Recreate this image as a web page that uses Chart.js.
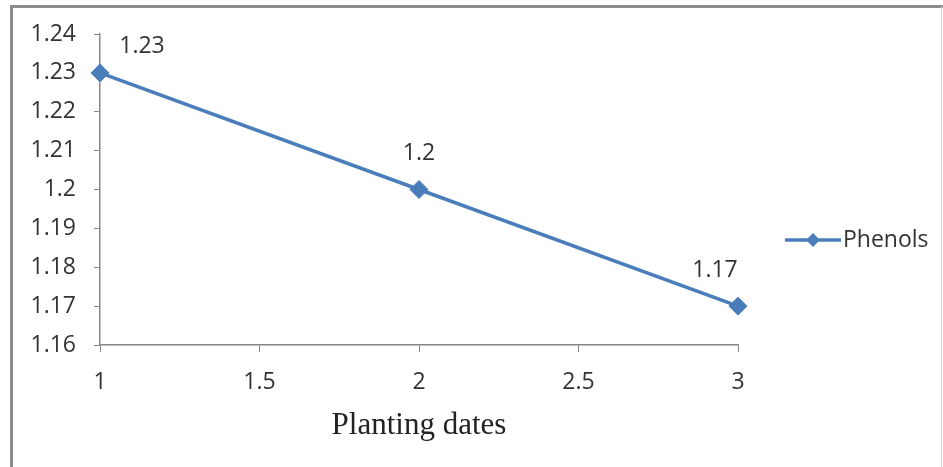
<!DOCTYPE html>
<html>
<head>
<meta charset="utf-8">
<script src="https://cdn.jsdelivr.net/npm/chart.js@4/dist/chart.umd.min.js"></script>
<style>
  html, body { margin: 0; padding: 0; background: #fff; }
  #wrap { position: relative; width: 943px; height: 467px; }
</style>
</head>
<body>
<div id="wrap"><canvas id="c" width="943" height="467"></canvas></div>
<script>
// ---- data ----
const plantingDates = [1, 2, 3];
const phenolsValues = [1.23, 1.20, 1.17];
const seriesName = "Phenols";
const xAxisTitle = "Planting dates";
const yTickMin = 1.16, yTickMax = 1.24, yTickStep = 0.01;
const xTickMin = 1, xTickMax = 3, xTickStep = 0.5;

const lineColor = '#4A7EBB';
const axisColor = '#868686';
const textColor = '#333333';
const tickFont = { family: "'Open Sans', sans-serif", size: 23 };

// per-point label offsets (styling only)
const labelShift = [{ dx: 42, dy: -26 }, { dx: 0, dy: -36 }, { dx: -23, dy: -36 }];

const fmt = v => String(+Number(v).toFixed(2));

const framePlugin = {
  id: 'frame',
  beforeDraw(chart) {
    const ctx = chart.ctx;
    ctx.save();
    ctx.fillStyle = '#fff';
    ctx.fillRect(0, 0, chart.width, chart.height);
    ctx.strokeStyle = '#8c8c8c';
    ctx.lineWidth = 3;
    ctx.beginPath();
    ctx.moveTo(11.5, 470);
    ctx.lineTo(11.5, 6.5);
    ctx.lineTo(945, 6.5);
    ctx.stroke();
    ctx.strokeStyle = '#d8d8d8';
    ctx.lineWidth = 1;
    ctx.beginPath();
    ctx.moveTo(941.5, 6.5);
    ctx.lineTo(941.5, 470);
    ctx.stroke();
    ctx.restore();
  }
};

const labelsPlugin = {
  id: 'pointLabels',
  afterDatasetsDraw(chart) {
    const ctx = chart.ctx;
    const meta = chart.getDatasetMeta(0);
    ctx.save();
    ctx.font = `${tickFont.size}px ${tickFont.family}`;
    ctx.fillStyle = textColor;
    ctx.textAlign = 'center';
    ctx.textBaseline = 'middle';
    meta.data.forEach((pt, i) => {
      const v = chart.data.datasets[0].data[i].y;
      const s = labelShift[i] || { dx: 0, dy: -36 };
      ctx.fillText(fmt(v), pt.x + s.dx, pt.y + s.dy);
    });
    // legend
    const lx = 785, ly = 240;
    ctx.strokeStyle = lineColor;
    ctx.lineWidth = 3.5;
    ctx.beginPath();
    ctx.moveTo(lx, ly);
    ctx.lineTo(lx + 56, ly);
    ctx.stroke();
    ctx.fillStyle = lineColor;
    ctx.beginPath();
    const cx = lx + 28, r = 7;
    ctx.moveTo(cx - r, ly); ctx.lineTo(cx, ly - r); ctx.lineTo(cx + r, ly); ctx.lineTo(cx, ly + r);
    ctx.closePath();
    ctx.fill();
    ctx.fillStyle = textColor;
    ctx.textAlign = 'left';
    ctx.fillText(seriesName, lx + 58, ly);
    ctx.restore();
  }
};

new Chart(document.getElementById('c'), {
  type: 'line',
  data: {
    datasets: [{
      label: seriesName,
      data: plantingDates.map((x, i) => ({ x: x, y: phenolsValues[i] })),
      borderColor: lineColor,
      backgroundColor: lineColor,
      borderWidth: 3.5,
      pointStyle: 'rectRot',
      pointRadius: 9,
      pointBorderWidth: 1,
      pointBackgroundColor: lineColor,
      pointBorderColor: lineColor,
      tension: 0,
      clip: false
    }]
  },
  options: {
    responsive: false,
    animation: false,
    devicePixelRatio: 1,
    layout: { padding: { left: 0, right: 205, top: 34, bottom: 0 } },
    plugins: { legend: { display: false }, tooltip: { enabled: false } },
    scales: {
      x: {
        type: 'linear',
        min: xTickMin, max: xTickMax,
        afterFit(s) { s.height = 122; },
        ticks: { stepSize: xTickStep, color: textColor, font: tickFont, padding: 17, maxRotation: 0, callback: v => fmt(v) },
        grid: { drawOnChartArea: false, drawTicks: true, tickLength: 7, color: axisColor },
        border: { color: axisColor, width: 1.5 },
        title: {
          display: true, text: xAxisTitle, color: '#222',
          font: { family: "'Liberation Serif', 'Times New Roman', serif", size: 31 },
          padding: { top: 0, bottom: 23 }
        }
      },
      y: {
        min: yTickMin, max: yTickMax,
        afterFit(s) { s.width = 100; },
        ticks: {
          stepSize: yTickStep, color: textColor, font: tickFont, padding: 18,
          callback: v => fmt(v)
        },
        grid: { drawOnChartArea: false, drawTicks: true, tickLength: 6, color: axisColor },
        border: { color: axisColor, width: 1.5 }
      }
    }
  },
  plugins: [framePlugin, labelsPlugin]
});
</script>
</body>
</html>
